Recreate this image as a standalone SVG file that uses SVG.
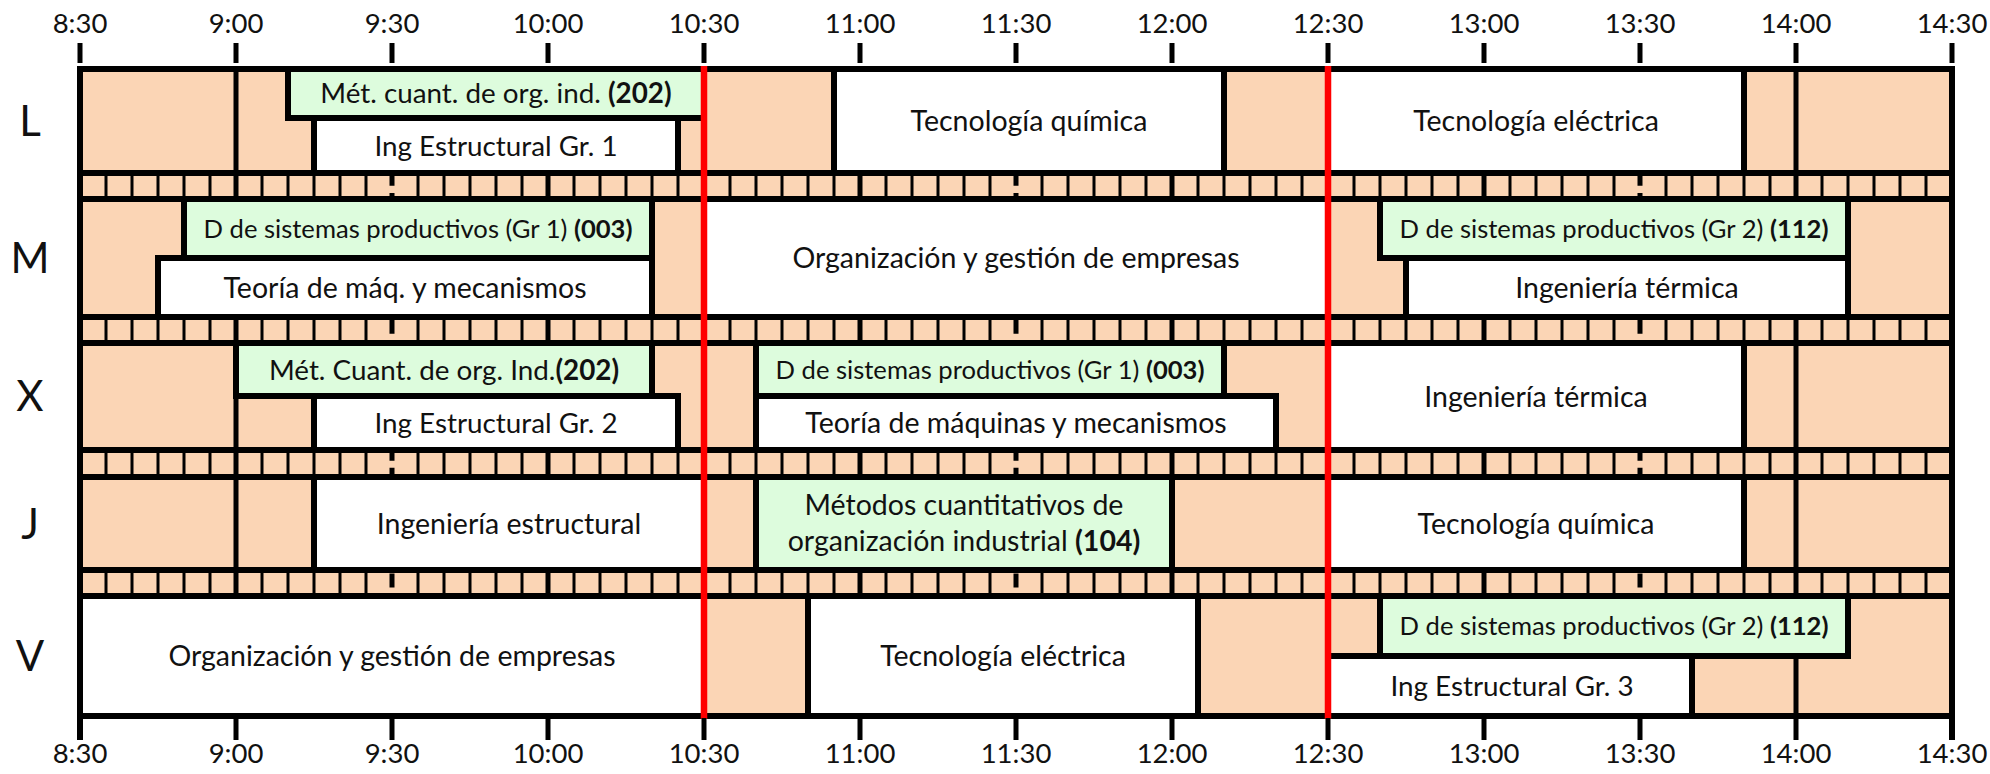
<svg xmlns="http://www.w3.org/2000/svg" width="1990" height="774" viewBox="0 0 1990 774">
<style>
.bg{fill:#FBD5B5}
.wh{fill:#FFFFFF;stroke:#000;stroke-width:6}
.gr{fill:#DDFCDD;stroke:#000;stroke-width:6}
.t{font-family:Lato,"Liberation Sans",sans-serif;font-size:28.5px;fill:#111;text-anchor:middle}
.m{font-size:27.8px}
.s{font-size:25.6px}
.b{font-weight:bold}
.ax{font-family:Lato,"Liberation Sans",sans-serif;font-size:27.5px;fill:#111;text-anchor:middle}
.day{font-family:Lato,"Liberation Sans",sans-serif;font-size:42px;fill:#111;text-anchor:middle}
.thin{stroke:#000;stroke-width:3;fill:none}
.hour{stroke:#000;stroke-width:5;fill:none}
.half{stroke:#000;stroke-width:5;fill:none;stroke-dasharray:14 7.15}
.hl{stroke:#000;stroke-width:6;fill:none}
.red{stroke:#FF0000;stroke-width:6.5;fill:none}
.tick{stroke:#000;stroke-width:5;fill:none}
</style>
<rect width="1990" height="774" fill="#FFFFFF"/>
<g id="grid">
<rect class="bg" x="80" y="69" width="1872" height="647"/>
<path class="thin" d="M106 69V716M132 69V716M158 69V716M184 69V716M210 69V716M262 69V716M288 69V716M314 69V716M340 69V716M366 69V716M418 69V716M444 69V716M470 69V716M496 69V716M522 69V716M574 69V716M600 69V716M626 69V716M652 69V716M678 69V716M730 69V716M756 69V716M782 69V716M808 69V716M834 69V716M886 69V716M912 69V716M938 69V716M964 69V716M990 69V716M1042 69V716M1068 69V716M1094 69V716M1120 69V716M1146 69V716M1198 69V716M1224 69V716M1250 69V716M1276 69V716M1302 69V716M1354 69V716M1380 69V716M1406 69V716M1432 69V716M1458 69V716M1510 69V716M1536 69V716M1562 69V716M1588 69V716M1614 69V716M1666 69V716M1692 69V716M1718 69V716M1744 69V716M1770 69V716M1822 69V716M1848 69V716M1874 69V716M1900 69V716M1926 69V716"/>
<rect class="bg" x="80" y="69" width="1872" height="104"/>
<rect class="bg" x="80" y="199" width="1872" height="118"/>
<rect class="bg" x="80" y="343" width="1872" height="107"/>
<rect class="bg" x="80" y="477" width="1872" height="93"/>
<rect class="bg" x="80" y="596" width="1872" height="120"/>
<path class="hour" d="M236 69V716M548 69V716M860 69V716M1172 69V716M1484 69V716M1796 69V716"/>
<path class="half" d="M392 66V716M1016 66V716M1640 66V716"/>
</g>
<g id="L-met-cuant"><rect class="gr" x="288" y="69" width="416" height="49"/><text class="t m" x="496" y="103">Mét. cuant. de org. ind. <tspan class="b">(202)</tspan></text></g>
<g id="L-ing-estructural"><rect class="wh" x="314" y="118" width="364" height="55"/><text class="t m" x="496" y="156">Ing Estructural Gr. 1</text></g>
<g id="L-tec-quimica"><rect class="wh" x="834" y="69" width="390" height="104"/><text class="t" x="1029" y="131">Tecnología química</text></g>
<g id="L-tec-electrica"><rect class="wh" x="1328" y="69" width="416" height="104"/><text class="t" x="1536" y="131">Tecnología eléctrica</text></g>
<g id="M-dsp-gr1"><rect class="gr" x="184" y="199" width="468" height="59"/><text class="t s" x="418" y="238">D de sistemas productivos (Gr 1) <tspan class="b">(003)</tspan></text></g>
<g id="M-teoria"><rect class="wh" x="158" y="258" width="494" height="59"/><text class="t" x="405" y="298">Teoría de máq. y mecanismos</text></g>
<g id="M-organizacion"><rect class="wh" x="704" y="199" width="624" height="118"/><text class="t" x="1016" y="268">Organización y gestión de empresas</text></g>
<g id="M-dsp-gr2"><rect class="gr" x="1380" y="199" width="468" height="59"/><text class="t s" x="1614" y="238">D de sistemas productivos (Gr 2) <tspan class="b">(112)</tspan></text></g>
<g id="M-ing-termica"><rect class="wh" x="1406" y="258" width="442" height="59"/><text class="t" x="1627" y="298">Ingeniería térmica</text></g>
<g id="X-met-cuant"><rect class="gr" x="236" y="343" width="416" height="53"/><text class="t m" x="444" y="380">Mét. Cuant. de org. Ind.<tspan class="b">(202)</tspan></text></g>
<g id="X-ing-estructural"><rect class="wh" x="314" y="396" width="364" height="54"/><text class="t m" x="496" y="433">Ing Estructural Gr. 2</text></g>
<g id="X-dsp-gr1"><rect class="gr" x="756" y="343" width="468" height="53"/><text class="t s" x="990" y="379">D de sistemas productivos (Gr 1) <tspan class="b">(003)</tspan></text></g>
<g id="X-teoria"><rect class="wh" x="756" y="396" width="520" height="54"/><text class="t" x="1016" y="433">Teoría de máquinas y mecanismos</text></g>
<g id="X-ing-termica"><rect class="wh" x="1328" y="343" width="416" height="107"/><text class="t" x="1536" y="407">Ingeniería térmica</text></g>
<g id="J-ing-estructural"><rect class="wh" x="314" y="477" width="390" height="93"/><text class="t" x="509" y="534">Ingeniería estructural</text></g>
<g id="J-metodos"><rect class="gr" x="756" y="477" width="416" height="93"/><text class="t" x="964" y="515">Métodos cuantitativos de</text><text class="t" x="964" y="551">organización industrial <tspan class="b">(104)</tspan></text></g>
<g id="J-tec-quimica"><rect class="wh" x="1328" y="477" width="416" height="93"/><text class="t" x="1536" y="534">Tecnología química</text></g>
<g id="V-organizacion"><rect class="wh" x="80" y="596" width="624" height="120"/><text class="t" x="392" y="666">Organización y gestión de empresas</text></g>
<g id="V-tec-electrica"><rect class="wh" x="808" y="596" width="390" height="120"/><text class="t" x="1003" y="666">Tecnología eléctrica</text></g>
<g id="V-dsp-gr2"><rect class="gr" x="1380" y="596" width="468" height="60"/><text class="t s" x="1614" y="635">D de sistemas productivos (Gr 2) <tspan class="b">(112)</tspan></text></g>
<g id="V-ing-estructural"><rect class="wh" x="1328" y="656" width="364" height="60"/><text class="t m" x="1512" y="696">Ing Estructural Gr. 3</text></g>
<g id="connectors">
<path class="hl" d="M77 69H1955M77 173H1955M77 199H1955M77 317H1955M77 343H1955M77 450H1955M77 477H1955M77 570H1955M77 596H1955M77 716H1955"/>
<path class="hl" d="M80 66V740M1952 66V740"/>
<path class="red" d="M704 66V719M1328 66V719"/>
<path class="tick" d="M80 43V63M236 43V63M392 43V63M548 43V63M704 43V63M860 43V63M1016 43V63M1172 43V63M1328 43V63M1484 43V63M1640 43V63M1796 43V63M1952 43V63"/>
<path class="tick" d="M236 718V740M392 718V740M548 718V740M704 718V740M860 718V740M1016 718V740M1172 718V740M1328 718V740M1484 718V740M1640 718V740M1796 718V740"/>
</g>
<g id="axis-top">
<text class="ax" x="80" y="33">8:30</text><text class="ax" x="236" y="33">9:00</text><text class="ax" x="392" y="33">9:30</text><text class="ax" x="548" y="33">10:00</text><text class="ax" x="704" y="33">10:30</text><text class="ax" x="860" y="33">11:00</text><text class="ax" x="1016" y="33">11:30</text><text class="ax" x="1172" y="33">12:00</text><text class="ax" x="1328" y="33">12:30</text><text class="ax" x="1484" y="33">13:00</text><text class="ax" x="1640" y="33">13:30</text><text class="ax" x="1796" y="33">14:00</text><text class="ax" x="1952" y="33">14:30</text>
</g>
<g id="axis-bottom">
<text class="ax" x="80" y="763">8:30</text><text class="ax" x="236" y="763">9:00</text><text class="ax" x="392" y="763">9:30</text><text class="ax" x="548" y="763">10:00</text><text class="ax" x="704" y="763">10:30</text><text class="ax" x="860" y="763">11:00</text><text class="ax" x="1016" y="763">11:30</text><text class="ax" x="1172" y="763">12:00</text><text class="ax" x="1328" y="763">12:30</text><text class="ax" x="1484" y="763">13:00</text><text class="ax" x="1640" y="763">13:30</text><text class="ax" x="1796" y="763">14:00</text><text class="ax" x="1952" y="763">14:30</text>
</g>
<g id="days">
<text class="day" x="30" y="136">L</text><text class="day" x="30" y="273">M</text><text class="day" x="30" y="411">X</text><text class="day" x="30" y="539">J</text><text class="day" x="30" y="671">V</text>
</g>
</svg>
